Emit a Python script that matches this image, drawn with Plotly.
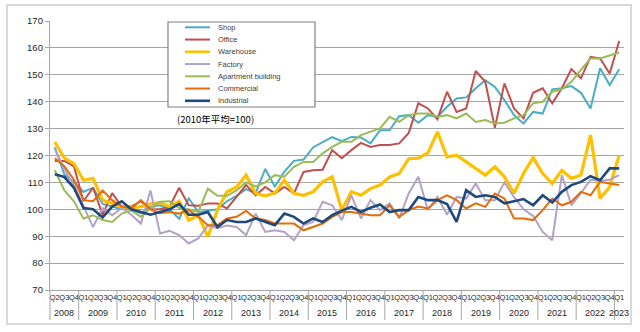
import plotly.graph_objects as go

# ---------------- data ----------------
quarter_labels = ["Q2", "Q3", "Q4",
                  "Q1", "Q2", "Q3", "Q4", "Q1", "Q2", "Q3", "Q4",
                  "Q1", "Q2", "Q3", "Q4", "Q1", "Q2", "Q3", "Q4",
                  "Q1", "Q2", "Q3", "Q4", "Q1", "Q2", "Q3", "Q4",
                  "Q1", "Q2", "Q3", "Q4", "Q1", "Q2", "Q3", "Q4",
                  "Q1", "Q2", "Q3", "Q4", "Q1", "Q2", "Q3", "Q4",
                  "Q1", "Q2", "Q3", "Q4", "Q1", "Q2", "Q3", "Q4",
                  "Q1", "Q2", "Q3", "Q4", "Q1", "Q2", "Q3", "Q4",
                  "Q1"]
year_labels = ["2008", "2009", "2010", "2011", "2012", "2013", "2014", "2015",
               "2016", "2017", "2018", "2019", "2020", "2021", "2022", "2023"]
quarters_per_year = [3, 4, 4, 4, 4, 4, 4, 4, 4, 4, 4, 4, 4, 4, 4, 1]

shop = [123, 113, 110, 106.5, 108, 102, 101, 100, 100, 98.5,
        101, 101.5, 100, 96.5, 104, 99, 99.5, 100, 103, 105,
        107.5, 106, 115, 108.5, 114, 118, 118.5, 123, 125, 126.8,
        125.3, 126.9, 126.7, 124.5, 129.4, 129.4, 134.6, 135, 132.2, 135,
        134.4, 138.1, 141.2, 141.6, 145, 148, 145.5, 140.6, 135, 131.9,
        136.2, 135.6, 144.6, 145, 145.8, 143.3, 137.5, 152.4, 146.2, 152.1]
office = [118, 118, 116, 103, 108, 98, 106, 101, 101, 103,
          100, 100, 101, 108, 101.5, 101.3, 102.2, 102.2, 100.3, 104.6,
          109, 105.2, 108.3, 105.9, 108.3, 105.9, 113.9, 114.5, 114.7, 122,
          119, 122, 124.7, 123.2, 123.9, 123.9, 124.5, 128.4, 139.4, 137.5,
          133.5, 143.7, 136.2, 137.5, 151.4, 147.4, 130.3, 146.8, 137.5, 133.8,
          143.3, 145, 139.4, 145, 152.1, 148.7, 156.7, 156.1, 150.5, 162.6]
warehouse = [125, 119, 117, 110.8, 111.5, 103.4, 102.2, 100.9, 100.5, 101,
             102, 102.5, 101, 103, 96, 97.8, 89.8, 99.7, 106.5, 108.3,
             112.7, 105.9, 105, 106, 110.8, 105.9, 105.2, 106.5, 110.2, 112.1,
             99.7, 106.5, 105.2, 107.7, 109, 112, 113.3, 118.8, 119, 121,
             128.8, 119.5, 120.1, 117.6, 115.2, 112.7, 115.8, 112.1, 105.9, 113.3,
             119.3, 113.3, 109.6, 114.5, 111.5, 112.7, 127.6, 104, 108.3, 120.1]
factory = [122.5, 115, 109, 101.5, 93.4, 100.5, 97.8, 100.5, 98, 94.7,
           107, 91, 92, 90.4, 87.3, 89.2, 94, 93, 94, 93.4,
           90.4, 98.4, 91.6, 92.2, 91.6, 88.5, 94.1, 95.3, 102.8, 101.5,
           96, 105.2, 96.6, 103.4, 99.7, 102.2, 96.6, 105.9, 112.1, 99.7,
           104.6, 98, 104.6, 104, 109.6, 103.4, 103.4, 110, 104.6, 100,
           97.5, 91.6, 88.5, 112.7, 101.5, 106, 111, 110.5, 111, 112.7]
apartment = [114.5, 107, 103, 96.6, 97.8, 96, 95.3, 98.4, 99.5, 97.2,
             100.5, 102.8, 103, 100.5, 100, 99, 107.7, 105, 105, 107,
             110, 108.5, 110, 112.7, 112.1, 115.8, 117.6, 117.6, 120.8, 123.2,
             125.1, 125.1, 127.6, 128.8, 130.1, 134.4, 132.5, 135, 135.6, 135.6,
             134.4, 135, 133.8, 135.6, 132.5, 133.2, 131.9, 132.2, 133.8, 135,
             139.4, 140, 143.7, 144.6, 147.4, 151.8, 156.1, 156.1, 157.3, 158.3]
commercial = [119, 116, 111, 103.4, 103, 107, 103.4, 101, 100.3, 103.4,
              100, 98.5, 99, 98.4, 99.7, 97.2, 94.1, 94.1, 96.6, 97.2,
              99.4, 96.6, 96, 94.7, 94.7, 94.7, 92.2, 93.4, 94.7, 97.2,
              99, 99, 98.4, 97.8, 97.8, 101.5, 97.2, 99.7, 101, 100.3,
              103.4, 105.2, 103.4, 100.3, 102.2, 100.9, 105.9, 104, 96.6, 96.6,
              96, 99.7, 104, 101.5, 102.8, 106.5, 105.2, 110.2, 109.6, 109]
industrial = [113, 112, 108, 100.5, 100, 97, 101, 103, 100, 99,
              98, 99, 100, 102, 98, 98, 99, 93.4, 96, 95.3,
              95.3, 96.6, 95.3, 94.1, 98.4, 97.2, 94.7, 96.6, 95.3, 97.8,
              99.5, 100.9, 99, 100.6, 101.8, 99, 99.7, 99.7, 104.6, 103.4,
              103.4, 102, 95.3, 107.1, 104.6, 105.2, 104.6, 102.2, 103, 103.8,
              101.5, 105.2, 102.5, 106.5, 109, 110.2, 112.3, 110.8, 115.2, 115.2]

series_names = ["Shop", "Office", "Warehouse", "Factory",
                "Apartment building", "Commercial", "Industrial"]
series_values = [shop, office, warehouse, factory, apartment, commercial, industrial]
series_colors = ["#4BACC6", "#C0504D", "#FFC000", "#B3A2C7",
                 "#9BBB59", "#E46C0A", "#1F497D"]
series_widths = [2, 2, 3.2, 2, 2, 2, 2.6]

note_text = "(2010年平均=100)"

# ---------------- geometry helpers (pixels -> paper) ----------------
W, H = 640, 332
L, R, T, B = 50, 16, 21, 42
PW, PH = W - L - R, H - T - B


def px(x):
    return (x - L) / PW


def py(y):
    return (H - B - y) / PH


x_idx = list(range(len(quarter_labels)))

fig = go.Figure()
for name, vals, col, wd in zip(series_names, series_values, series_colors, series_widths):
    fig.add_trace(go.Scatter(x=x_idx, y=vals, mode="lines", name=name,
                             line=dict(color=col, width=wd), hoverinfo="skip"))

shapes = []
annotations = []

# outer frame
shapes.append(dict(type="rect", xref="paper", yref="paper",
                   x0=px(7), x1=px(631), y0=py(324), y1=py(5),
                   line=dict(color="#D9D9D9", width=2), layer="below"))

# year dividers and labels
start = 0
shapes.append(dict(type="line", xref="paper", yref="paper", x0=0, x1=0,
                   y0=0, y1=py(320), line=dict(color="#A6A6A6", width=1)))
for yl, n in zip(year_labels, quarters_per_year):
    end = start + n
    annotations.append(dict(text=yl, xref="x", yref="paper",
                            x=(start + end - 1) / 2, y=py(313),
                            showarrow=False, xanchor="center", yanchor="middle",
                            font=dict(size=9, color="#262626",
                                      family="Liberation Sans, Arial")))
    if end < len(quarter_labels):
        shapes.append(dict(type="line", xref="x", yref="paper",
                           x0=end - 0.5, x1=end - 0.5, y0=0, y1=py(320),
                           line=dict(color="#A6A6A6", width=1)))
    start = end

# manual legend box
shapes.append(dict(type="rect", xref="paper", yref="paper",
                   x0=px(168), x1=px(315), y0=py(107), y1=py(22),
                   fillcolor="white", line=dict(color="#808080", width=1.2)))
for k, (name, col, wd) in enumerate(zip(series_names, series_colors, series_widths)):
    yy = 27.3 + 12.25 * k
    shapes.append(dict(type="line", xref="paper", yref="paper",
                       x0=px(185), x1=px(210), y0=py(yy), y1=py(yy),
                       line=dict(color=col, width=min(wd, 2.6))))
    annotations.append(dict(text=name, xref="paper", yref="paper",
                            x=px(216), y=py(yy), showarrow=False,
                            xanchor="left", yanchor="middle",
                            font=dict(size=7.5, color="#404040",
                                      family="Liberation Sans, Arial")))

annotations.append(dict(text=note_text, xref="paper", yref="paper",
                        x=px(175), y=py(119), showarrow=False,
                        xanchor="left", yanchor="middle",
                        font=dict(size=9.5, color="#000000",
                                  family="Noto Sans CJK JP")))

fig.update_layout(
    width=W, height=H,
    margin=dict(l=L, r=R, t=T, b=B, pad=0),
    paper_bgcolor="white", plot_bgcolor="white",
    showlegend=False,
    shapes=shapes, annotations=annotations,
    xaxis=dict(range=[-0.5, len(quarter_labels) - 0.5],
               tickmode="array", tickvals=x_idx, ticktext=quarter_labels,
               tickangle=0, tickfont=dict(size=7.5, color="#262626",
                                          family="Liberation Sans, Arial"),
               showgrid=False, zeroline=False, showline=True,
               linecolor="#A6A6A6", linewidth=1.3, ticks="", fixedrange=True),
    yaxis=dict(range=[70, 170], tick0=70, dtick=10,
               tickfont=dict(size=9.5, color="#262626",
                             family="Liberation Sans, Arial"),
               showgrid=True, gridcolor="#A6A6A6", gridwidth=1.3,
               zeroline=False, showline=True, linecolor="#A6A6A6", linewidth=1.3,
               ticks="outside", ticklen=4, tickcolor="#A6A6A6", fixedrange=True),
)

fig.write_html("out.html")
